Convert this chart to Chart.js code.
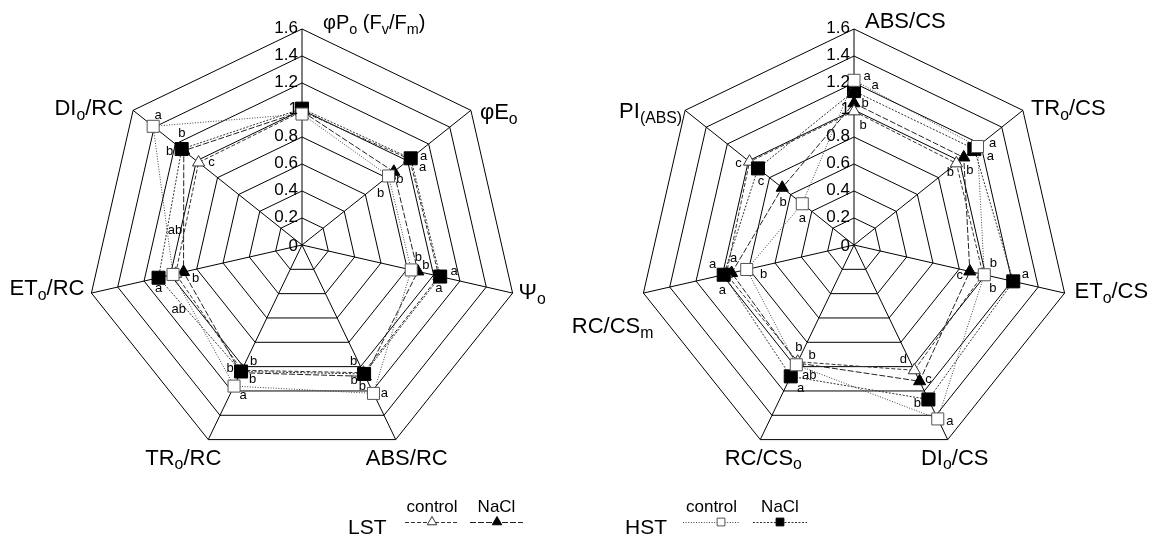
<!DOCTYPE html>
<html>
<head>
<meta charset="utf-8">
<script src="https://cdn.jsdelivr.net/npm/chart.js@4.4.1/dist/chart.umd.min.js"></script>
<style>
  html, body { margin: 0; padding: 0; background: #fff; overflow: hidden; }
  #wrap { position: relative; width: 1153px; height: 540px; }
  #wrap canvas { position: absolute; left: 0; top: 0; }
</style>
</head>
<body>
<div id="wrap">
  <canvas id="rcChart" width="1153" height="540"></canvas>
  <canvas id="csChart" width="1153" height="540"></canvas>
</div>
<script>
const FONT = '"Liberation Sans", Arial, Helvetica, sans-serif';

// Axis names, clockwise from the top. "_x" or "_{...}" marks a subscript.
const rcAxes = ['φP_o (F_v/F_m)', 'φE_o', 'Ψ_o', 'ABS/RC', 'TR_o/RC', 'ET_o/RC', 'DI_o/RC'];
const csAxes = ['ABS/CS', 'TR_o/CS', 'ET_o/CS', 'DI_o/CS', 'RC/CS_o', 'RC/CS_m', 'PI_{(ABS)}'];

// Radial scale ticks
const tickValues = [0, 0.2, 0.4, 0.6, 0.8, 1, 1.2, 1.4, 1.6];
const tickLabels = ['0', '0.2', '0.4', '0.6', '0.8', '1', '1.2', '1.4', '1.6'];

// Specific energy fluxes per reaction centre (relative values)
const rcHstControl = [0.97, 0.82, 0.83, 1.22, 1.16, 0.98, 1.41];
const rcHstNaCl    = [1.01, 1.03, 1.05, 1.06, 1.04, 1.09, 1.14];
const rcLstControl = [0.99, 1.02, 1.04, 1.05, 1.03, 0.96, 0.98];
const rcLstNaCl    = [0.99, 0.87, 0.88, 1.08, 1.05, 0.90, 1.12];

// Phenomenological fluxes per cross section and performance index
const csHstControl = [1.22, 1.17, 0.99, 1.43, 0.985, 0.815, 0.49];
const csHstNaCl    = [1.14, 1.14, 1.21, 1.27, 1.08, 0.99, 0.91];
const csLstControl = [0.99, 0.97, 0.98, 1.03, 0.96, 0.97, 0.99];
const csLstNaCl    = [1.05, 1.04, 0.88, 1.12, 0.97, 0.93, 0.68];

// Significance letters
const rcHstControlSig = ['', 'b', 'b', 'a', 'a', 'ab', 'a'];
const rcHstNaClSig    = ['', 'a', 'a', 'b', 'b', 'a', 'b'];
const rcLstControlSig = ['', 'a', 'a', 'b', 'b', 'ab', 'c'];
const rcLstNaClSig    = ['', 'b', 'b', 'b', 'b', 'b', 'b'];
const csHstControlSig = ['a', 'a', 'b', 'a', 'ab', 'b', 'a'];
const csHstNaClSig    = ['a', 'a', 'a', 'b', 'a', 'a', 'c'];
const csLstControlSig = ['b', 'b', 'b', 'd', 'b', 'a', 'c'];
const csLstNaClSig    = ['b', 'b', 'c', 'c', 'b', 'a', 'b'];

// Where each letter sits relative to its marker (px)
const sigOffsets = {
  rc: {
    hstControl: [[0, 0], [-8, 17], [7, -13], [11, 0], [9, 9], [2, -44], [5, -11]],
    hstNaCl:    [[0, 0], [13, -2], [14, -5], [-10, 6], [-11, -3], [0, 11], [-12, 2]],
    lstControl: [[0, 0], [13, 8], [0, 12], [-10, -11], [12, -9], [3, 36], [13, 0]],
    lstNaCl:    [[0, 0], [6, 8], [8, -6], [-3, 10], [12, 7], [12, 6], [-2, -17]]
  },
  cs: {
    hstControl: [[13, -4], [15, -3], [9, -11], [12, 2], [13, 11], [17, 5], [0, 15]],
    hstNaCl:    [[21, -6], [16, 7], [12, -7], [-11, 4], [10, 12], [-11, -10], [3, 13]],
    lstControl: [[9, 14], [-6, 9], [10, 14], [-11, -11], [1, -14], [-4, 16], [-11, 2]],
    lstNaCl:    [[11, 0], [6, 13], [-10, 4], [9, -2], [15, -8], [2, -15], [1, 15]]
  }
};

// Axis-name placement: [align, dx, dy] from the outer vertex
const rcLabelPlace = [['left', 21, -7], ['left', 9, 1], ['left', 6, -2], ['center', 11, 17],
                      ['center', -25, 17], ['right', -7, -6], ['right', -10, -3]];
const csLabelPlace = [['left', 11, -9], ['left', 8, -3], ['left', 10, -3], ['center', 7, 17],
                      ['center', 3, 17], ['right', 10, 32], ['right', -3, 0]];

// Series appearance
const styles = {
  hstControl: { pointStyle: 'rect', radius: 8.5, fill: '#ffffff', border: '#555', line: '#444', dash: [1, 1.6] },
  hstNaCl:    { pointStyle: 'rect', radius: 9.2, fill: '#000000', border: '#000', line: '#333', dash: [2, 1.5] },
  lstControl: { pointStyle: 'triangle', radius: 7, fill: '#ffffff', border: '#333', line: '#333', dash: [4, 2] },
  lstNaCl:    { pointStyle: 'triangle', radius: 7, fill: '#000000', border: '#000', line: '#222', dash: [6, 2] }
};

function dataset(label, data, st) {
  return {
    label, data,
    borderColor: st.line, borderWidth: 1, borderDash: st.dash, fill: false,
    pointStyle: st.pointStyle, pointRadius: st.radius, pointHoverRadius: st.radius,
    pointBackgroundColor: st.fill, pointBorderColor: st.border, pointBorderWidth: 1
  };
}

// Parse "_x" / "_{...}" subscripts into segments
function parseRich(text) {
  const segs = [];
  let buf = '';
  for (let i = 0; i < text.length; i++) {
    const c = text[i];
    if (c === '_') {
      if (buf) { segs.push([buf, false]); buf = ''; }
      if (text[i + 1] === '{') {
        const end = text.indexOf('}', i + 2);
        segs.push([text.slice(i + 2, end), true]);
        i = end;
      } else {
        segs.push([text[i + 1], true]);
        i++;
      }
    } else buf += c;
  }
  if (buf) segs.push([buf, false]);
  return segs;
}
function plain(text) { return parseRich(text).map(s => s[0]).join(''); }

function drawRich(ctx, text, x, yCenter, align, size) {
  const segs = parseRich(text);
  const subSize = size * 0.72;
  const widths = segs.map(([t, sub]) => {
    ctx.font = (sub ? subSize : size) + 'px ' + FONT;
    return ctx.measureText(t).width;
  });
  const total = widths.reduce((a, b) => a + b, 0);
  let cx = align === 'left' ? x : align === 'right' ? x - total : x - total / 2;
  const base = yCenter + size * 0.36;
  ctx.textAlign = 'left';
  ctx.textBaseline = 'alphabetic';
  segs.forEach(([t, sub], k) => {
    ctx.font = (sub ? subSize : size) + 'px ' + FONT;
    ctx.fillText(t, cx, sub ? base + size * 0.22 : base);
    cx += widths[k];
  });
}

function marker(ctx, st, x, y, r) {
  ctx.save();
  ctx.setLineDash([]);
  ctx.lineWidth = 1;
  ctx.strokeStyle = st.border;
  ctx.fillStyle = st.fill;
  Chart.helpers.drawPoint(ctx, { pointStyle: st.pointStyle, radius: r, borderWidth: 1, rotation: 0 }, x, y);
  ctx.restore();
}

function drawLegend(ctx) {
  const y = 522;
  ctx.save();
  ctx.fillStyle = '#000';
  const group = (name, nx, items) => {
    ctx.font = '21px ' + FONT;
    ctx.textAlign = 'left';
    ctx.textBaseline = 'alphabetic';
    ctx.fillText(name, nx, 534);
    items.forEach(([txt, st, x0, x1, mx]) => {
      ctx.font = '17px ' + FONT;
      ctx.textAlign = 'center';
      ctx.fillStyle = '#000';
      ctx.fillText(txt, (x0 + x1) / 2, 512);
      ctx.save();
      ctx.strokeStyle = st.line;
      ctx.lineWidth = 1;
      ctx.setLineDash(st.dash);
      ctx.beginPath();
      ctx.moveTo(x0, y + 0.5);
      ctx.lineTo(x1, y + 0.5);
      ctx.stroke();
      ctx.restore();
      marker(ctx, st, mx, y, 5.5);
    });
  };
  group('LST', 348, [['control', styles.lstControl, 405, 459, 432], ['NaCl', styles.lstNaCl, 470, 523, 497]]);
  group('HST', 625, [['control', styles.hstControl, 683, 740, 721], ['NaCl', styles.hstNaCl, 753, 807, 780]]);
  ctx.restore();
}

function decor(cfg) {
  return {
    id: 'decor_' + cfg.key,
    afterDatasetsDraw(chart) {
      const ctx = chart.ctx;
      const scale = chart.scales.r;
      ctx.save();
      ctx.fillStyle = '#000';
      // tick values along the upward axis
      ctx.font = '17px ' + FONT;
      ctx.textAlign = 'right';
      ctx.textBaseline = 'alphabetic';
      tickValues.forEach((v, k) => {
        const p = scale.getPointPositionForValue(0, v);
        ctx.fillText(tickLabels[k], p.x - 4, p.y + (v === 0 ? 6 : 4));
      });
      // axis names
      cfg.axes.forEach((name, i) => {
        const p = scale.getPointPosition(i, scale.drawingArea);
        const [align, dx, dy] = cfg.place[i];
        drawRich(ctx, name, p.x + dx, p.y + dy, align, cfg.labelSize[i] || 22);
      });
      // significance letters beside the markers
      ctx.font = '13px ' + FONT;
      ctx.textAlign = 'center';
      ctx.textBaseline = 'middle';
      cfg.letters.forEach((letters, di) => {
        const meta = chart.getDatasetMeta(di);
        const offs = cfg.offsets[di];
        letters.forEach((t, i) => {
          if (!t) return;
          const pt = meta.data[i];
          ctx.fillText(t, pt.x + offs[i][0], pt.y + offs[i][1]);
        });
      });
      if (cfg.legend) drawLegend(ctx);
      ctx.restore();
    }
  };
}

function radar(id, axes, series, padding, decorCfg) {
  return new Chart(document.getElementById(id), {
    type: 'radar',
    data: { labels: axes.map(plain), datasets: series },
    options: {
      responsive: false,
      animation: false,
      events: [],
      layout: { padding },
      plugins: { legend: { display: false }, tooltip: { enabled: false } },
      elements: { line: { tension: 0 } },
      scales: {
        r: {
          min: 0, max: 1.6,
          ticks: { stepSize: 0.2, display: false },
          grid: { circular: false, color: '#000', lineWidth: 1 },
          angleLines: { display: true, color: '#000', lineWidth: 1 },
          pointLabels: { display: false }
        }
      }
    },
    plugins: [decor(decorCfg)]
  });
}

// Dataset index 0 is painted last (on top)
radar('rcChart', rcAxes, [
  dataset('HST control', rcHstControl, styles.hstControl),
  dataset('HST NaCl', rcHstNaCl, styles.hstNaCl),
  dataset('LST control', rcLstControl, styles.lstControl),
  dataset('LST NaCl', rcLstNaCl, styles.lstNaCl)
], { left: 86, right: 635, top: 29, bottom: 79 }, {
  key: 'rc', axes: rcAxes, place: rcLabelPlace, labelSize: [20],
  letters: [rcHstControlSig, rcHstNaClSig, rcLstControlSig, rcLstNaClSig],
  offsets: [sigOffsets.rc.hstControl, sigOffsets.rc.hstNaCl, sigOffsets.rc.lstControl, sigOffsets.rc.lstNaCl],
  legend: false
});

radar('csChart', csAxes, [
  dataset('HST control', csHstControl, styles.hstControl),
  dataset('HST NaCl', csHstNaCl, styles.hstNaCl),
  dataset('LST control', csLstControl, styles.lstControl),
  dataset('LST NaCl', csLstNaCl, styles.lstNaCl)
], { left: 638, right: 83, top: 29, bottom: 79 }, {
  key: 'cs', axes: csAxes, place: csLabelPlace, labelSize: [],
  letters: [csHstControlSig, csHstNaClSig, csLstControlSig, csLstNaClSig],
  offsets: [sigOffsets.cs.hstControl, sigOffsets.cs.hstNaCl, sigOffsets.cs.lstControl, sigOffsets.cs.lstNaCl],
  legend: true
});
</script>
</body>
</html>
